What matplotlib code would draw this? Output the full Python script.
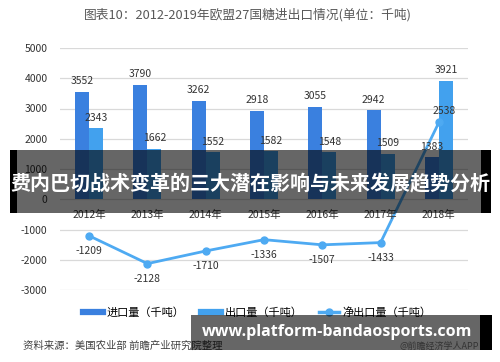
import matplotlib
matplotlib.use('Agg')
import matplotlib.pyplot as plt
from matplotlib.patches import Rectangle
from matplotlib.lines import Line2D
import numpy as np

plt.rcParams['font.family'] = ['Noto Sans CJK SC', 'DejaVu Sans']

# DATA
years = ['2012年', '2013年', '2014年', '2015年', '2016年', '2017年', '2018年']
imports = [3552, 3790, 3262, 2918, 3055, 2942, 1383]
exports = [2343, 1662, 1552, 1582, 1548, 1509, 3921]
net = [-1209, -2128, -1710, -1336, -1507, -1433, 2538]
yticks = [-3000, -2000, -1000, 0, 1000, 2000, 3000, 4000, 5000]

c_imp = '#3a80df'
c_exp = '#42a1ee'
c_net = '#4eaaf2'

W, H = 500, 362
fig = plt.figure(figsize=(W / 100, H / 100), dpi=100)


def px(x0, y0, x1, y1):
    # pixel box (top-left origin) -> figure fraction rect
    return (x0 / W, 1 - y1 / H, (x1 - x0) / W, (y1 - y0) / H)


ax = fig.add_axes(px(60, 48, 468, 290))
x = np.arange(len(years))
bw = 0.24
ax.bar(x - bw / 2, imports, bw, color=c_imp, zorder=2)
ax.bar(x + bw / 2, exports, bw, color=c_exp, zorder=2)
ax.plot(x, net, color=c_net, lw=2, marker='o', ms=5, zorder=3)

ax.set_xlim(-0.5, len(years) - 0.5)
ax.set_ylim(-3000, 5000)
ax.set_yticks(yticks)
ax.set_yticklabels([str(v) for v in yticks], fontsize=7.5, color='#333333')
ax.set_xticks([])
ax.tick_params(axis='y', length=0, pad=9)
ax.grid(axis='y', color='#d9d9d9', lw=0.9)
ax.set_axisbelow(True)
for s in ax.spines.values():
    s.set_visible(False)

# labels
for i in range(len(years)):
    ax.annotate(str(imports[i]), (i - bw / 2, imports[i]), xytext=(0, 4),
                textcoords='offset points', ha='center', va='bottom',
                fontsize=7.5, color='#333333', zorder=4)
    ax.annotate(str(exports[i]), (i + bw / 2, exports[i]), xytext=(0, 4),
                textcoords='offset points', ha='center', va='bottom',
                fontsize=7.5, color='#333333', zorder=4)
    if net[i] < 0:
        ax.annotate(str(net[i]), (i, net[i]), xytext=(0, -11),
                    textcoords='offset points', ha='center', va='center',
                    fontsize=7.5, color='#333333', zorder=4)
    else:
        ax.annotate(str(net[i]), (i, net[i]), xytext=(4, 8),
                    textcoords='offset points', ha='center', va='center',
                    fontsize=7.5, color='#333333', zorder=4)
    ax.annotate(years[i], (i, 0), xytext=(0, -11), textcoords='offset points',
                ha='center', va='center', fontsize=7.5, color='#333333')

# legend
handles = [Line2D([], [], color=c_imp, lw=4.5),
           Line2D([], [], color=c_exp, lw=4.5),
           Line2D([], [], color=c_net, lw=2.5, marker='o', ms=5)]
labels = ['进口量（千吨）', '出口量（千吨）', '净出口量（千吨）']
fig.legend(handles, labels, loc='center', bbox_to_anchor=(0.515, 1 - 313 / H),
           ncol=3, frameon=False, fontsize=8, handlelength=1.8,
           handletextpad=0.3, columnspacing=1.5)

# title and notes
fig.text(248 / W, 1 - 15 / H, '图表10：2012-2019年欧盟27国糖进出口情况(单位：千吨)',
         ha='center', va='center', fontsize=9.2, color='#595959')
fig.text(23 / W, 1 - 346 / H, '资料来源：美国农业部 前瞻产业研究院整理',
         ha='left', va='center', fontsize=7.5, color='#404040')
fig.text(479 / W, 1 - 346 / H, '@前瞻经济学人APP', ha='right', va='center',
         fontsize=6.5, color='#333333', zorder=12)

# overlay banners
r = px(17, 150, 481, 213)
fig.patches.append(Rectangle(r[:2], *r[2:], transform=fig.transFigure,
                             color='black', alpha=0.6, zorder=10, lw=0))
for bx in [(10, 17), (481, 491)]:
    r = px(bx[0], 150, bx[1], 213)
    fig.patches.append(Rectangle(r[:2], *r[2:], transform=fig.transFigure,
                                 color='black', zorder=10, lw=0))
fig.text(250 / W, 1 - 183 / H, '费内巴切战术变革的三大潜在影响与未来发展趋势分析',
         ha='center', va='center', fontsize=14.4, color='white',
         fontweight='bold', zorder=11)

r = px(191, 315, 480, 350)
fig.patches.append(Rectangle(r[:2], *r[2:], transform=fig.transFigure,
                             color='black', alpha=0.6, zorder=10, lw=0))
r = px(480, 315, 492, 350)
fig.patches.append(Rectangle(r[:2], *r[2:], transform=fig.transFigure,
                             color='black', zorder=10, lw=0))
fig.text(337 / W, 1 - 332 / H, 'www.platform-bandaosports.com',
         ha='center', va='center', fontsize=11.5, color='white',
         fontweight='bold', family=['Open Sans', 'DejaVu Sans'], zorder=11)

fig.savefig('out.png', dpi=100)
